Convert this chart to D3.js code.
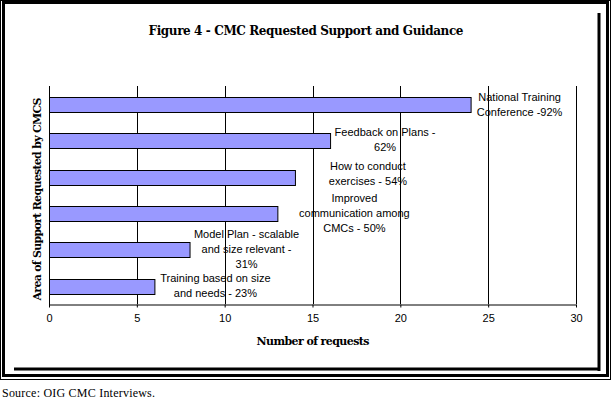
<!DOCTYPE html>
<html>
<head>
<meta charset="utf-8">
<script src="https://cdn.jsdelivr.net/npm/d3@7"></script>
<style>
  body { margin: 0; background: #fff; }
  svg { display: block; }
</style>
</head>
<body>
<div id="chart"></div>
<script>
// values, top bar first
const categories = [
  "National Training Conference",
  "Feedback on Plans",
  "How to conduct exercises",
  "Improved communication among CMCs",
  "Model Plan - scalable and size relevant",
  "Training based on size and needs"
];
const requests = [24, 16, 14, 13, 8, 6];
const labelLines = [
  ["National Training", "Conference -92%"],
  ["Feedback on Plans -", "62%"],
  ["How to conduct", "exercises - 54%"],
  ["Improved", "communication among", "CMCs - 50%"],
  ["Model Plan - scalable", "and size relevant -", "31%"],
  ["Training based on size", "and needs - 23%"]
];
const xTicks = [0, 5, 10, 15, 20, 25, 30];

const width = 615;
const height = 400;
const margin = { top: 86, right: 39, bottom: 96, left: 49 };
const chartWidth = width - margin.left - margin.right;
const chartHeight = height - margin.top - margin.bottom;

const svg = d3.select("#chart")
  .append("svg")
  .attr("width", width)
  .attr("height", height);

// frame: thin outer line, thick inner line, then the chart area shadow
svg.append("rect")
  .attr("x", 0.5).attr("y", 0.5)
  .attr("width", 610).attr("height", 379)
  .attr("fill", "none").attr("stroke", "#000").attr("stroke-width", 1);
svg.append("rect")
  .attr("x", 3.5).attr("y", 2.5)
  .attr("width", 604).attr("height", 373)
  .attr("fill", "none").attr("stroke", "#000").attr("stroke-width", 3);
svg.append("line")
  .attr("x1", 599).attr("x2", 599).attr("y1", 13).attr("y2", 371)
  .attr("stroke", "#000").attr("stroke-width", 3);
svg.append("line")
  .attr("x1", 14).attr("x2", 600).attr("y1", 369).attr("y2", 369)
  .attr("stroke", "#000").attr("stroke-width", 3);

svg.append("text")
  .attr("x", 306)
  .attr("y", 35)
  .attr("text-anchor", "middle")
  .style("font-family", "'DejaVu Serif', serif")
  .style("font-size", "12px")
  .style("font-weight", "bold")
  .attr("textLength", 315)
  .text("Figure 4 - CMC Requested Support and Guidance");

const g = svg.append("g")
  .attr("transform", `translate(${margin.left}, ${margin.top})`);

const x = d3.scaleLinear().domain([0, 30]).range([0, chartWidth]);
const y = d3.scaleBand()
  .domain(categories)
  .range([0, chartHeight])
  .paddingInner(0.6)
  .paddingOuter(0.3);

// gridlines
g.selectAll(".grid")
  .data(xTicks.slice(1))
  .enter()
  .append("line")
  .attr("x1", (d) => Math.round(x(d)) + 0.5)
  .attr("x2", (d) => Math.round(x(d)) + 0.5)
  .attr("y1", 0)
  .attr("y2", chartHeight)
  .attr("stroke", "#000");

// x axis
const xAxis = g.append("g")
  .attr("transform", `translate(0, ${chartHeight + 0.5})`)
  .call(d3.axisBottom(x).tickValues(xTicks).tickSize(3).tickSizeOuter(0));
xAxis.select(".domain").attr("stroke", "#000");
xAxis.selectAll("text")
  .attr("y", 10)
  .style("font-family", "'Liberation Sans', Arial, sans-serif")
  .style("font-size", "11px")
  .attr("fill", "#000");

// y axis
g.append("line")
  .attr("x1", 0.5).attr("x2", 0.5)
  .attr("y1", 0).attr("y2", chartHeight + 3)
  .attr("stroke", "#000");

// bars
g.selectAll(".bar")
  .data(categories)
  .enter()
  .append("rect")
  .attr("class", "bar")
  .attr("x", x(0) + 0.5)
  .attr("y", (d) => Math.round(y(d)) + 0.5)
  .attr("width", (d, i) => x(requests[i]))
  .attr("height", Math.round(y.bandwidth()))
  .attr("fill", "#9999ff")
  .attr("stroke", "#000")
  .attr("stroke-width", 1);

// data labels, moved by hand in the original
const labelDx = [49, 55, 73, 77, 57, 61];
const labelDy = [0, -1, -3, 0, 0, 0];
const lineHeight = 15;

const labels = g.selectAll(".label")
  .data(categories)
  .enter()
  .append("text")
  .attr("class", "label")
  .attr("text-anchor", "middle")
  .style("font-family", "'Liberation Sans', Arial, sans-serif")
  .style("font-size", "11px")
  .attr("fill", "#000");

labels.each(function (d, i) {
  const lines = labelLines[i];
  const cx = x(requests[i]) + labelDx[i];
  const cy = y(d) + y.bandwidth() / 2 + labelDy[i];
  d3.select(this)
    .selectAll("tspan")
    .data(lines)
    .enter()
    .append("tspan")
    .attr("x", cx)
    .attr("y", (t, j) => cy + (j - (lines.length - 1) / 2) * lineHeight)
    .attr("dy", "0.35em")
    .text((t) => t);
});

// axis titles
svg.append("text")
  .attr("x", 313)
  .attr("y", 345)
  .attr("text-anchor", "middle")
  .style("font-family", "'DejaVu Serif', serif")
  .style("font-size", "11px")
  .style("font-weight", "bold")
  .attr("textLength", 113)
  .text("Number of requests");

svg.append("text")
  .attr("transform", "rotate(-90)")
  .attr("x", -199)
  .attr("y", 41)
  .attr("text-anchor", "middle")
  .style("font-family", "'DejaVu Serif', serif")
  .style("font-size", "11px")
  .style("font-weight", "bold")
  .attr("textLength", 203)
  .text("Area of Support Requested by CMCS");

svg.append("text")
  .attr("x", 2)
  .attr("y", 397)
  .style("font-family", "'Liberation Serif', 'Times New Roman', serif")
  .style("font-size", "12px")
  .attr("textLength", 153)
  .text("Source: OIG CMC Interviews.");
</script>
</body>
</html>
